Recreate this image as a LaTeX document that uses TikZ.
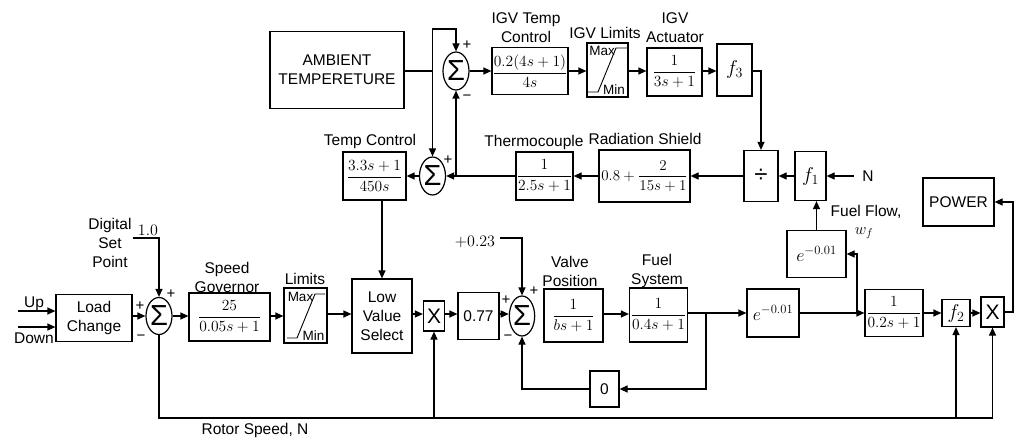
\RequirePackage{fix-cm}
\documentclass[tikz,border=0pt]{standalone}
\usepackage{amsmath}
\usepackage{fontspec}
\setmainfont{Liberation Sans}
\usetikzlibrary{arrows.meta,shapes.geometric,calc}
\begin{document}
\begin{tikzpicture}[x=1pt,y=-1pt,line width=1.2pt,
  every node/.style={inner sep=0pt},
  txt/.style={font=\fontsize{15.5}{19}\selectfont, align=center},
  box/.style={draw, line width=1.2pt, font=\fontsize{15.5}{19}\selectfont, align=center},
  fbox/.style={box, font=\fontsize{15.5}{18}\selectfont},
  fnbox/.style={box, font=\fontsize{20}{20}\selectfont},
  ebox/.style={box, font=\fontsize{18}{18}\selectfont},
  sumn/.style={draw, ellipse, line width=1.2pt, minimum width=26pt, minimum height=38pt, font=\fontsize{29}{29}\selectfont},
  sgn/.style={font=\fontsize{15}{15}\selectfont},
  mm/.style={font=\fontsize{13.5}{13.5}\selectfont},
  mlbl/.style={font=\fontsize{16}{18}\selectfont},
  sat/.style={line width=0.9pt},
  arr/.style={-{Triangle[length=8pt,width=7pt]}}]
\useasboundingbox (0,0) rectangle (1017,441);

% ---------- top row ----------
\node[box, minimum width=134pt, minimum height=77pt] (amb) at (337,70) {AMBIENT\\TEMPERETURE};
\node[sumn] (sumA) at (456,71) {Σ};
\node[fbox, minimum width=76pt, minimum height=47pt] (igvtc) at (530,71) {$\dfrac{0.2(4s+1)}{4s}$};
\node[box, minimum width=41pt, minimum height=54pt] (igvlim) at (607.5,70) {};
\node[fbox, minimum width=55pt, minimum height=48pt] (igvact) at (674.5,72) {$\dfrac{1}{3s+1}$};
\node[fnbox, minimum width=35pt, minimum height=52pt] (f3) at (734.5,70) {$f_3$};

\node[txt] (ligvtc) at (526,27.5) {IGV Temp\\Control};
\node[txt] (ligvlim) at (605,33) {IGV Limits};
\node[txt] (ligvact) at (675,27.5) {IGV\\Actuator};

\draw[sat] (588,92) -- (598,92) -- (616,48) -- (627,48);
\node[mm] (igvmax) at (602,51) {Max};
\node[mm] (igvmin) at (614,90) {Min};

\node[sgn] (sA1) at (467,45) {+};
\node[sgn] (sA2) at (467,98) {\textminus};

% ---------- middle row ----------
\node[fbox, minimum width=63pt, minimum height=48pt] (tempc) at (374.5,176) {$\dfrac{3.3s+1}{450s}$};
\node[sumn] (sumB) at (432.5,176) {Σ};
\node[fbox, minimum width=57pt, minimum height=48pt] (thermo) at (544.5,176) {$\dfrac{1}{2.5s+1}$};
\node[box, minimum width=91pt, minimum height=52pt, font=\fontsize{15}{17}\selectfont] (radsh) at (644.5,176) {$0.8+\dfrac{2}{15s+1}$};
\node[box, minimum width=34pt, minimum height=51pt, font=\fontsize{24}{24}\selectfont] (div) at (761,176) {÷};
\node[fnbox, minimum width=31pt, minimum height=49pt] (f1) at (810.5,176) {$f_1$};
\node[txt] (Nlbl) at (868,176) {N};

\node[txt] (ltempc) at (370,141) {Temp Control};
\node[txt] (lthermo) at (534,142) {Thermocouple};
\node[txt] (lradsh) at (645,139) {Radiation Shield};
\node[sgn] (sB1) at (448,160) {+};

% ---------- main row ----------
\node[box, minimum width=76pt, minimum height=47pt] (loadc) at (94,318) {Load\\Change};
\node[sumn, minimum height=37pt] (sumC) at (159,316) {Σ};
\node[fbox, minimum width=81pt, minimum height=48pt] (spgov) at (229.5,317) {$\dfrac{25}{0.05s+1}$};
\node[box, minimum width=43pt, minimum height=55pt] (lim) at (305.5,315.5) {};
\node[box, minimum width=60pt, minimum height=74pt] (lvs) at (382,316) {Low\\Value\\Select};
\node[box, minimum width=21pt, minimum height=30pt, font=\fontsize{21}{21}\selectfont] (mx1) at (434,316) {X};
\node[box, minimum width=41pt, minimum height=47pt] (k077) at (478.5,316) {0.77};
\node[sumn, minimum width=25pt, minimum height=40pt] (sumD) at (522,316) {Σ};
\node[fbox, minimum width=59pt, minimum height=53pt] (valve) at (573.5,315.5) {$\dfrac{1}{bs+1}$};
\node[fbox, minimum width=58pt, minimum height=54pt] (fuel) at (658.5,315) {$\dfrac{1}{0.4s+1}$};
\node[ebox, minimum width=52pt, minimum height=48pt] (e1) at (773,313) {$e^{-0.01}$};
\node[ebox, minimum width=59pt, minimum height=47pt] (e2) at (816.5,254) {$e^{-0.01}$};
\node[fbox, minimum width=58pt, minimum height=47pt] (tf) at (894,313) {$\dfrac{1}{0.2s+1}$};
\node[fnbox, minimum width=28pt, minimum height=27pt] (f2) at (956,313) {$f_2$};
\node[box, minimum width=23pt, minimum height=30pt, font=\fontsize{21}{21}\selectfont] (mx2) at (992.5,312) {X};
\node[box, minimum width=71pt, minimum height=48pt] (power) at (958.5,202) {POWER};
\node[box, minimum width=29pt, minimum height=36pt] (zero) at (604.5,389) {0};

\draw[sat] (287,338) -- (297,338) -- (315,294) -- (325,294);
\node[mm] (limmax) at (300.5,297) {Max};
\node[mm] (limmin) at (313.5,336) {Min};

% labels
\node[txt] (lup) at (34,304) {Up};
\node[txt] (ldown) at (34,338) {Down};
\node[txt] (ldsp) at (110,242.5) {Digital\\Set\\Point};
\node[mlbl] (lone) at (148,230) {$1.0$};
\node[txt] (lspgov) at (227,277) {Speed\\Governor};
\node[txt] (llim) at (305,279) {Limits};
\node[mlbl] (lp023) at (475,242) {$+0.23$};
\node[txt] (lvalve) at (570,271) {Valve\\Position};
\node[txt] (lfuel) at (657,271) {Fuel\\System};
\node[txt] (lff) at (866,212) {Fuel Flow,};
\node[mlbl] (lwf) at (864,233) {$w_f$};
\node[txt] (lrs) at (255,430) {Rotor Speed, N};

\node[sgn] (sC1) at (140,306) {+};
\node[sgn] (sC2) at (141,338) {\textminus};
\node[sgn] (sC3) at (171,294) {+};
\node[sgn] (sD1) at (506,300) {+};
\node[sgn] (sD2) at (508,338) {\textminus};
\node[sgn] (sD3) at (534,291) {+};

% ---------- connectors: top ----------
\coordinate (ja) at (432.5,71);
\coordinate (jtop) at (432.5,29);
\draw (amb.east |- ja) -- (ja);
\draw[arr] (ja) -- (jtop) -| (sumA.north);
\draw[arr] (ja) -- (sumB.north);
\draw[arr] (sumA.east) -- (igvtc.west);
\draw[arr] (igvtc.east) -- (igvtc.east -| igvlim.west);
\draw[arr] (igvlim.east |- igvtc.east) -- (igvtc.east -| igvact.west);
\draw[arr] (igvact.east |- igvtc.east) -- (igvtc.east -| f3.west);
\draw[arr] (f3.east |- igvtc.east) -| (div.north);

% ---------- connectors: middle ----------
\draw[arr] ([xshift=-8pt]Nlbl.west) -- (f1.east);
\draw[arr] (f1.west) -- (div.east);
\draw[arr] (div.west) -- (radsh.east);
\draw[arr] (radsh.west) -- (thermo.east);
\draw[arr] (thermo.west) -- (sumB.east);
\coordinate (jt) at (456,176);
\draw[arr] (jt) -- (sumA.south);
\draw[arr] (sumB.west) -- (tempc.east);
\draw[arr] (tempc.south -| lvs.north) -- (lvs.north);

% ---------- connectors: main row ----------
\coordinate (upS) at (18,311);
\coordinate (dnS) at (18,327);
\draw[arr] (upS) -- (upS -| loadc.west);
\draw[arr] (dnS) -- (dnS -| loadc.west);
\draw[arr] (loadc.east |- sumC.west) -- (sumC.west);
\coordinate (dsp) at (133,238);
\draw[arr] (dsp) -| (sumC.north);
\draw[arr] (sumC.east) -- (sumC.east -| spgov.west);
\draw[arr] (spgov.east |- sumC.east) -- (sumC.east -| lim.west);
\coordinate (row) at (0,314);
\draw[arr] (lim.east |- row) -- (lvs.west |- row);
\draw[arr] (lvs.east |- row) -- (mx1.west |- row);
\draw[arr] (mx1.east |- row) -- (k077.west |- row);
\draw[arr] (k077.east |- row) -- (sumD.west |- row);
\coordinate (p023) at (500,238);
\draw[arr] (p023) -| (sumD.north);
\draw[arr] (valve.east |- row) -- (fuel.west |- row);
\coordinate (row2) at (0,313);
\draw[arr] (fuel.east |- row2) -- (e1.west);
\coordinate (jb1) at (706,313);
\draw[arr] (jb1) |- (zero.east);
\draw[arr] (zero.west) -| (sumD.south);
\coordinate (jb2) at (857,313);
\draw[arr] (e1.east) -- (tf.west);
\draw[arr] (jb2) |- (e2.east);
\draw[arr] (e2.north) -- (e2.north |- f1.south);
\draw[arr] (tf.east) -- (f2.west);
\draw[arr] (f2.east) -- (f2.east -| mx2.west);
\coordinate (pwrc) at (1013,202);
\draw[arr] (mx2.east) -| (pwrc) -- (power.east);

% rotor speed
\coordinate (rs) at (0,418);
\draw (sumC.south) |- (mx2.south |- rs);
\draw[arr] (mx1.south |- rs) -- (mx1.south);
\draw[arr] (f2.south |- rs) -- (f2.south);
\draw[arr] (mx2.south |- rs) -- (mx2.south);
\end{tikzpicture}
\end{document}
